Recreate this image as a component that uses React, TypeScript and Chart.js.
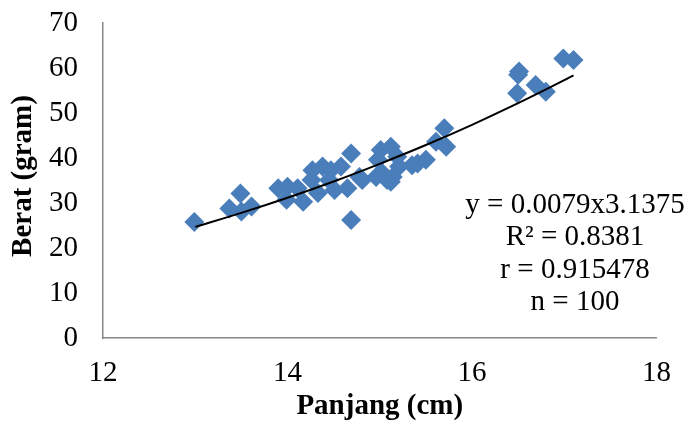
import React, { useEffect, useRef } from "react";
import { Chart, registerables } from "chart.js";

Chart.register(...registerables);

// Observed points (Panjang cm, Berat gram)
const panjang: number[] = [
  12.99, 13.37, 13.49, 13.5, 13.61, 13.9, 14.0, 13.99, 14.11, 14.17,
  14.26, 14.27, 14.33, 14.38, 14.45, 14.47, 14.51, 14.58, 14.65, 14.69,
  14.69, 14.78, 14.81, 14.98, 15.01, 15.03, 15.12, 15.12, 15.14, 15.19,
  15.21, 15.41, 15.5, 15.61, 15.7, 15.72, 16.49, 16.5, 16.51, 16.69,
  16.8, 16.99, 17.1, 15.35, 15.08, 14.96,
];
const berat: number[] = [
  25.8, 28.8, 32.1, 28.1, 29.2, 33.3, 33.6, 30.7, 33.3, 30.3,
  35.1, 37.3, 32.2, 38.1, 35.1, 37.3, 32.9, 38.1, 33.3, 41.0,
  26.2, 35.8, 35.1, 39.6, 41.8, 36.6, 42.5, 34.7, 35.8, 40.3,
  38.1, 38.8, 39.6, 43.6, 46.6, 42.5, 54.4, 58.5, 59.2, 56.2,
  54.7, 62.1, 61.8, 38.4, 35.1, 35.8,
];

// Trendline values
const trendX: number[] = [13, 13.5, 14, 14.5, 15, 15.5, 16, 16.5, 17, 17.1];
const trendY: number[] = [24.69, 27.8, 31.16, 34.78, 38.7, 42.88, 47.38, 52.18, 57.3, 58.37];

const xTicks: number[] = [12, 14, 16, 18];
const yTicks: number[] = [0, 10, 20, 30, 40, 50, 60, 70];

const annotationLines: string[] = [
  "y = 0.0079x3.1375",
  "R² = 0.8381",
  "r = 0.915478",
  "n = 100",
];

const FONT = "'Times New Roman', 'Liberation Serif', serif";

export default function App() {
  const ref = useRef<HTMLCanvasElement | null>(null);

  useEffect(() => {
    if (!ref.current) return;
    const annot = {
      id: "annot",
      afterDraw(chart: any) {
        const ctx = chart.ctx;
        ctx.save();
        ctx.fillStyle = "#000";
        ctx.font = `29px ${FONT}`;
        ctx.textAlign = "center";
        ctx.textBaseline = "middle";
        annotationLines.forEach((t, i) => {
          ctx.fillText(t, 575, 205 + i * 32.5);
        });
        // y axis title
        ctx.font = `bold 29px ${FONT}`;
        ctx.translate(24, 176);
        ctx.rotate(-Math.PI / 2);
        ctx.fillText("Berat (gram)", 0, 0);
        ctx.restore();
      },
    };
    const chart = new Chart(ref.current, {
      type: "scatter",
      data: {
        datasets: [
          {
            type: "line",
            data: trendX.map((x, i) => ({ x, y: trendY[i] })),
            borderColor: "#000",
            borderWidth: 2,
            pointRadius: 0,
            cubicInterpolationMode: "monotone",
            fill: false,
          } as any,
          {
            data: panjang.map((x, i) => ({ x, y: berat[i] })),
            backgroundColor: "#4a7ebb",
            borderWidth: 0,
            pointStyle: "rectRot",
            pointRadius: 10,
          },
        ],
      },
      options: {
        animation: false,
        responsive: false,
        devicePixelRatio: 1,
        layout: { padding: { top: 23, right: 31, left: 0, bottom: 0 } },
        plugins: { legend: { display: false }, tooltip: { enabled: false } },
        scales: {
          x: {
            type: "linear",
            min: 12,
            max: 18,
            afterBuildTicks: (s: any) => {
              s.ticks = xTicks.map((v) => ({ value: v }));
            },
            afterFit: (s: any) => {
              s.height = 92;
            },
            grid: { display: false, drawTicks: false },
            border: { display: true, color: "#868686", width: 1.5 },
            ticks: { color: "#000", font: { family: FONT, size: 29 }, padding: 18 },
            title: {
              display: true,
              text: "Panjang (cm)",
              color: "#000",
              font: { family: FONT, size: 29, weight: "bold" },
              padding: { top: 0, bottom: 6 },
            },
          },
          y: {
            type: "linear",
            min: 0,
            max: 70,
            afterBuildTicks: (s: any) => {
              s.ticks = yTicks.map((v) => ({ value: v }));
            },
            afterFit: (s: any) => {
              s.width = 103;
              s.paddingTop = 0;
              s.paddingBottom = 0;
            },
            grid: { display: false, drawTicks: false },
            border: { display: true, color: "#868686", width: 1.5 },
            ticks: { color: "#000", font: { family: FONT, size: 29 }, padding: 25 },
            title: { display: false },
          },
        },
      },
      plugins: [annot],
    } as any);
    return () => chart.destroy();
  }, []);

  return (
    <div style={{ position: "fixed", left: 0, top: 0, width: 689, height: 430, background: "#fff" }}>
      <canvas ref={ref} width={689} height={430} style={{ display: "block" }} />
    </div>
  );
}
